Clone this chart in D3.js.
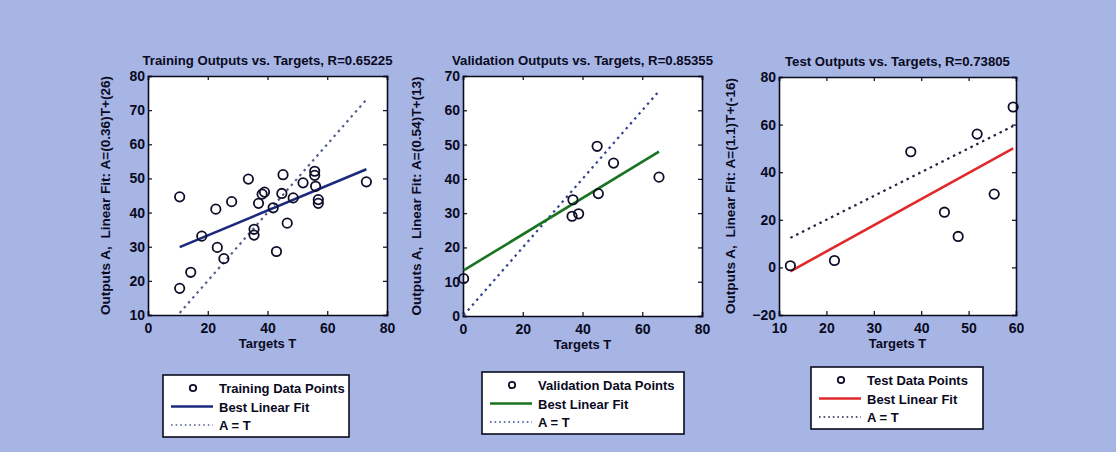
<!DOCTYPE html>
<html>
<head>
<meta charset="utf-8">
<script src="https://cdn.jsdelivr.net/npm/d3@7"></script>
<style>
  body { margin: 0; background: #a7b5e5; }
  text { font-family: "Liberation Sans", Arial, sans-serif; font-weight: bold; fill: #0a0a1e; white-space: pre; }
</style>
</head>
<body>
<div id="svgWrapper"></div>
<script>
const width = 1116;
const height = 452;

// Training data (targets T, outputs A)
const trainT = [10.6, 10.6, 14.3, 18.0, 22.7, 23.2, 25.4, 28.0, 33.6, 35.5, 35.5, 37.0, 38.2, 39.0,
                41.9, 43.0, 44.8, 45.2, 46.6, 48.6, 51.9, 55.8, 55.8, 56.1, 57.0, 57.0, 73.1];
const trainA = [44.6, 17.8, 22.5, 33.1, 41.0, 29.8, 26.5, 43.2, 49.8, 35.1, 33.4, 42.7, 45.4, 46.0,
                41.4, 28.6, 45.6, 51.1, 36.9, 44.3, 48.7, 52.1, 50.9, 47.7, 43.8, 42.7, 49.0];

// Validation data
const valT = [0.2, 36.8, 36.5, 38.7, 44.9, 45.3, 50.4, 65.6];
const valA = [10.9, 33.9, 29.1, 29.8, 49.5, 35.7, 44.6, 40.5];

// Test data
const testT = [12.4, 21.7, 37.8, 44.9, 47.8, 51.8, 55.4, 59.4];
const testA = [0.7, 2.9, 48.6, 23.2, 13.0, 56.0, 30.8, 67.4];

// Best linear fit [slope, intercept] as drawn
const trainFit = [0.365, 26];
const valFit = [0.53, 13.2];
const testFit = [1.1, -15.3];

// Axis ranges and ticks
const trainXDomain = [0, 80], trainYDomain = [10, 80];
const valXDomain = [0, 80], valYDomain = [0, 70];
const testXDomain = [10, 60], testYDomain = [-20, 80];
const trainXTicks = [0, 20, 40, 60, 80], trainYTicks = [10, 20, 30, 40, 50, 60, 70, 80];
const valXTicks = [0, 20, 40, 60, 80], valYTicks = [0, 10, 20, 30, 40, 50, 60, 70];
const testXTicks = [10, 20, 30, 40, 50, 60], testYTicks = [-20, 0, 20, 40, 60, 80];

const titles = ["Training Outputs vs. Targets, R=0.65225",
                "Validation Outputs vs. Targets, R=0.85355",
                "Test Outputs vs. Targets, R=0.73805"];
const yLabels = ["Outputs A,  Linear Fit: A=(0.36)T+(26)",
                 "Outputs A,  Linear Fit: A=(0.54)T+(13)",
                 "Outputs A,  Linear Fit: A=(1.1)T+(-16)"];
const legendNames = ["Training Data Points", "Validation Data Points", "Test Data Points"];

const panels = [
  { T: trainT, A: trainA, fit: trainFit, xd: trainXDomain, yd: trainYDomain, xt: trainXTicks, yt: trainYTicks,
    box: [148, 76, 239, 239], ylab: 38, fitColor: "#1b2a7c", dotColor: "#52608f", legend: [163, 375, 186, 62] },
  { T: valT, A: valA, fit: valFit, xd: valXDomain, yd: valYDomain, xt: valXTicks, yt: valYTicks,
    box: [463, 76, 239, 240], ylab: 42, fitColor: "#1a7320", dotColor: "#33458e", legend: [482, 372, 202, 62] },
  { T: testT, A: testA, fit: testFit, xd: testXDomain, yd: testYDomain, xt: testXTicks, yt: testYTicks,
    box: [779, 77, 237, 238], ylab: 44, fitColor: "#e02a2a", dotColor: "#1c2140", legend: [811, 367, 172, 62] }
];

const svg = d3.select("#svgWrapper")
    .append("svg")
    .attr("width", width)
    .attr("height", height);

svg.append("rect")
    .attr("width", width)
    .attr("height", height)
    .attr("fill", "#a7b5e5");

panels.forEach((p, i) => {
    const [bx, by, bw, bh] = p.box;
    const x = d3.scaleLinear().domain(p.xd).range([bx, bx + bw]);
    const y = d3.scaleLinear().domain(p.yd).range([by + bh, by]);
    const g = svg.append("g");

    g.append("rect")
        .attr("x", bx).attr("y", by)
        .attr("width", bw).attr("height", bh)
        .attr("fill", "#fff");

    // MATLAB style: ticks inside on all four sides
    const tickLen = -4;
    g.append("g").attr("transform", `translate(0,${by + bh})`)
        .call(d3.axisBottom(x).tickValues(p.xt).tickSize(tickLen).tickPadding(8));
    g.append("g").attr("transform", `translate(0,${by})`)
        .call(d3.axisTop(x).tickValues(p.xt).tickSize(tickLen).tickFormat(""));
    g.append("g").attr("transform", `translate(${bx},0)`)
        .call(d3.axisLeft(y).tickValues(p.yt).tickSize(tickLen).tickPadding(3));
    g.append("g").attr("transform", `translate(${bx + bw},0)`)
        .call(d3.axisRight(y).tickValues(p.yt).tickSize(tickLen).tickFormat(""));

    g.selectAll(".domain").attr("stroke", "#0a0a1e").attr("stroke-width", 1.6);
    g.selectAll(".tick line").attr("stroke", "#0a0a1e").attr("stroke-width", 1.2);
    g.selectAll(".tick text")
        .style("font-family", "'Liberation Sans', Arial, sans-serif")
        .style("font-weight", "bold")
        .style("font-size", "14px")
        .attr("fill", "#0a0a1e");

    const tMin = d3.min(p.T), tMax = d3.max(p.T);

    // A = T dotted line
    g.append("line")
        .attr("x1", x(tMin)).attr("y1", y(tMin))
        .attr("x2", x(tMax)).attr("y2", y(tMax))
        .attr("stroke", p.dotColor)
        .attr("stroke-width", 2.2)
        .attr("stroke-dasharray", "2.5,4");

    // best linear fit
    g.append("line")
        .attr("x1", x(tMin)).attr("y1", y(p.fit[0] * tMin + p.fit[1]))
        .attr("x2", x(tMax)).attr("y2", y(p.fit[0] * tMax + p.fit[1]))
        .attr("stroke", p.fitColor)
        .attr("stroke-width", 2.6);

    // data points
    g.selectAll("circle.pt")
        .data(p.T.map((t, k) => [t, p.A[k]]))
        .enter()
        .append("circle")
        .attr("class", "pt")
        .attr("cx", d => x(d[0]))
        .attr("cy", d => y(d[1]))
        .attr("r", 4.7)
        .attr("fill", "none")
        .attr("stroke", "#0e0e2a")
        .attr("stroke-width", 1.8);

    // titles and labels
    g.append("text")
        .attr("x", bx + bw / 2).attr("y", by - 11)
        .attr("text-anchor", "middle")
        .style("font-size", "13.2px")
        .text(titles[i]);
    g.append("text")
        .attr("x", bx + bw / 2).attr("y", by + bh + 33)
        .attr("text-anchor", "middle")
        .style("font-size", "13px")
        .text("Targets T");
    g.append("text")
        .attr("transform", `translate(${bx - p.ylab},${by + bh / 2}) rotate(-90)`)
        .attr("text-anchor", "middle")
        .style("font-size", "13.6px")
        .text(yLabels[i]);

    // legend
    const [lx, ly, lw, lh] = p.legend;
    const lg = svg.append("g");
    lg.append("rect")
        .attr("x", lx).attr("y", ly)
        .attr("width", lw).attr("height", lh)
        .attr("fill", "#fff")
        .attr("stroke", "#0a0a1e")
        .attr("stroke-width", 1.6);
    const rowY = [ly + 13, ly + 31.5, ly + 50];
    lg.append("circle")
        .attr("cx", lx + 30).attr("cy", rowY[0])
        .attr("r", 3.2)
        .attr("fill", "none")
        .attr("stroke", "#0e0e2a")
        .attr("stroke-width", 1.8);
    lg.append("line")
        .attr("x1", lx + 8).attr("x2", lx + 50)
        .attr("y1", rowY[1]).attr("y2", rowY[1])
        .attr("stroke", p.fitColor).attr("stroke-width", 2.6);
    lg.append("line")
        .attr("x1", lx + 8).attr("x2", lx + 50)
        .attr("y1", rowY[2]).attr("y2", rowY[2])
        .attr("stroke", p.dotColor).attr("stroke-width", 1.6)
        .attr("stroke-dasharray", "1.6,3");
    [legendNames[i], "Best Linear Fit", "A = T"].forEach((s, k) => {
        lg.append("text")
            .attr("x", lx + 56).attr("y", rowY[k] + 5)
            .style("font-size", "13px")
            .text(s);
    });
});
</script>
</body>
</html>
